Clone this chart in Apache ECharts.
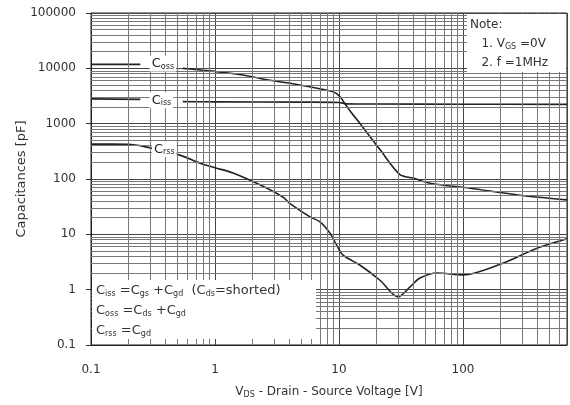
<!DOCTYPE html>
<html>
<head>
<meta charset="utf-8">
<script src="https://cdn.jsdelivr.net/npm/echarts@6/dist/echarts.min.js"></script>
<style>
html, body { margin: 0; padding: 0; background: #fff; }
#chart { width: 570px; height: 405px; }
</style>
</head>
<body>
<div id="chart"></div>
<script>
// tick labels
var xTicks = [0.1, 1, 10, 100]
var yTicks = [0.1, 1, 10, 100, 1000, 10000, 100000]
var xMin = 0.1
var xMax = 690

// curves ('-' = gap where the label sits)
var cossV = [0.1, 0.25, 0.4, 0.55, 0.76, 1.03, 1.68, 2.63, 4.84, 8.95, 10.2, 11.2, 12.3, 14.8, 21.4, 31, 39.5, 54, 114, 288, 690]
var cossC = [11800, 11800, '-', 10000, 9300, 8700, 7600, 6200, 5000, 3780, 3070, 2260, 1700, 1000, 340, 120, 104, 84, 68, 51, 42]

var cissV = [0.1, 0.25, 0.4, 0.55, 1, 5, 10, 11.5, 20, 100, 690]
var cissC = [2800, 2750, '-', 2500, 2480, 2450, 2420, 2280, 2260, 2250, 2230]

var crssV = [0.1, 0.2, 0.27, 0.52, 0.76, 1, 1.4, 2.63, 3.53, 4.03, 5.84, 7.03, 8.46, 9.6, 10.8, 14.8, 21.4, 30, 37.4, 45, 62, 100, 209, 395, 640, 690]
var crssC = [427, 425, 385, 270, 193, 160, 128, 68, 47, 36, 20.7, 16.8, 10.5, 6.3, 4.2, 2.76, 1.48, 0.74, 1.12, 1.62, 2.0, 1.85, 3.0, 5.6, 7.9, 8.3]

function pairs(xs, ys) {
  return xs.map(function(x, i) { return [x, ys[i]] })
}

// minor log grid lines (2..9 per decade)
function minorLines(lo, hi, key) {
  var out = []
  for (var d = lo; d < hi; d *= 10) {
    for (var k = 2; k <= 9; k++) {
      var v = +(d * k).toPrecision(3)
      if (v < hi) {
        var o = {}
        o[key] = v
        out.push(o)
      }
    }
  }
  return out
}

var font = 'DejaVu Sans'
var ink = '#222'
var subStyle = { fontSize: 8, fontFamily: font, color: ink, padding: [6, 0, 0, 0] }

function curveLabel(text, coord) {
  return {
    symbolSize: 0,
    silent: true,
    label: {
      show: true,
      position: 'inside',
      formatter: text,
      color: ink,
      fontSize: 13,
      fontFamily: font,
      backgroundColor: '#fff',
      padding: [1, 2],
      rich: { s: subStyle }
    },
    data: [{ coord: coord }]
  }
}

var chart = echarts.init(document.getElementById('chart'))
chart.setOption({
  animation: false,
  grid: {
    left: 91,
    right: 3,
    top: 13,
    bottom: 60,
    show: true,
    borderColor: '#222',
    borderWidth: 1
  },
  xAxis: {
    type: 'log',
    logBase: 10,
    min: xMin,
    max: xMax,
    name: 'V{s|DS} - Drain - Source Voltage [V]',
    nameLocation: 'middle',
    nameGap: 40,
    nameTextStyle: {
      fontSize: 12,
      fontFamily: font,
      color: '#333',
      rich: { s: { fontSize: 8, fontFamily: font, color: '#333', padding: [6, 0, 0, 0] } }
    },
    axisLine: { show: true, lineStyle: { color: '#222' } },
    axisTick: { show: false },
    axisLabel: {
      margin: 19,
      fontSize: 12,
      fontFamily: font,
      color: '#333',
      formatter: function(v) {
        return xTicks.indexOf(v) >= 0 ? String(v) : ''
      }
    },
    splitLine: { show: true, lineStyle: { color: '#444', width: 1 } }
  },
  yAxis: {
    type: 'log',
    logBase: 10,
    min: yTicks[0],
    max: yTicks[yTicks.length - 1],
    name: 'Capacitances [pF]',
    nameLocation: 'middle',
    nameGap: 63,
    nameMoveOverlap: false,
    nameTextStyle: { fontSize: 13, fontFamily: font, color: '#333' },
    axisLine: { show: true, lineStyle: { color: '#222' } },
    axisTick: { show: true, length: 5, lineStyle: { color: '#333' } },
    axisLabel: {
      margin: 15,
      fontSize: 12,
      fontFamily: font,
      color: '#333',
      formatter: function(v) {
        return yTicks.indexOf(v) >= 0 ? String(v) : ''
      }
    },
    splitLine: { show: true, lineStyle: { color: '#444', width: 1 } }
  },
  series: [
    {
      // grid only
      type: 'line',
      z: 1,
      silent: true,
      symbol: 'none',
      lineStyle: { opacity: 0 },
      data: [[xMin, 1]],
      markLine: {
        silent: true,
        symbol: ['none', 'none'],
        label: { show: false },
        lineStyle: { type: 'solid', color: '#777', width: 1 },
        data: minorLines(xMin, xMax, 'xAxis').concat(minorLines(yTicks[0], yTicks[yTicks.length - 1], 'yAxis'))
      }
    },
    {
      name: 'Coss',
      type: 'line',
      z: 3,
      symbol: 'none',
      smooth: 0.3,
      connectNulls: false,
      lineStyle: { color: ink, width: 1.6 },
      data: pairs(cossV, cossC),
      markPoint: curveLabel('C{s|oss}', [0.38, 12200])
    },
    {
      name: 'Ciss',
      type: 'line',
      z: 3,
      symbol: 'none',
      smooth: 0.3,
      connectNulls: false,
      lineStyle: { color: ink, width: 1.6 },
      data: pairs(cissV, cissC),
      markPoint: curveLabel('C{s|iss}', [0.37, 2650])
    },
    {
      name: 'Crss',
      type: 'line',
      z: 3,
      symbol: 'none',
      smooth: 0.3,
      lineStyle: { color: ink, width: 1.6 },
      data: pairs(crssV, crssC),
      markPoint: curveLabel('C{s|rss}', [0.39, 345])
    }
  ],
  graphic: [
    {
      type: 'rect',
      left: 467,
      top: 14,
      z: 50,
      shape: { width: 99, height: 58 },
      style: { fill: '#fff' }
    },
    {
      type: 'text',
      left: 470,
      top: 15,
      z: 51,
      style: {
        text: 'Note:\n   1. V{s|GS} =0V\n   2. f =1MHz',
        fill: '#333',
        font: '12px ' + font,
        lineHeight: 19,
        rich: { s: subStyle }
      }
    },
    {
      type: 'rect',
      left: 92,
      top: 280,
      z: 50,
      shape: { width: 224, height: 59 },
      style: { fill: '#fff' }
    },
    {
      type: 'text',
      left: 96,
      top: 281,
      z: 51,
      style: {
        text: 'C{s|iss} =C{s|gs} +C{s|gd}  (C{s|ds}=shorted)\nC{s|oss} =C{s|ds} +C{s|gd}\nC{s|rss} =C{s|gd}',
        fill: '#333',
        font: '13px ' + font,
        lineHeight: 20,
        rich: { s: subStyle }
      }
    }
  ]
})
</script>
</body>
</html>
